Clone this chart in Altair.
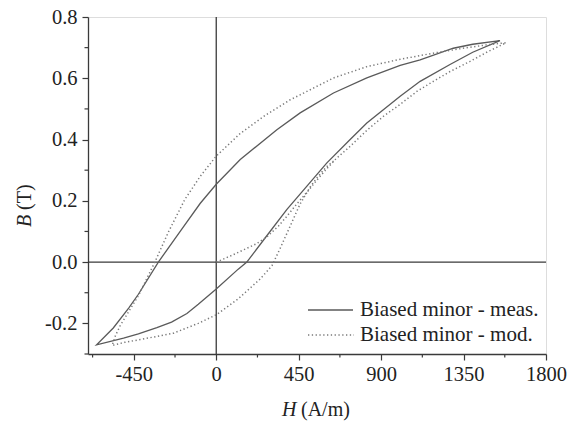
import altair as alt
import pandas as pd

# ---- data ----
meas_H = [1549, 1400, 1294, 1113, 1004, 822, 640, 458, 331, 131, 0, -87, -189, -316, -425, -478, -562, -653,
          -506, -425, -324, -244, -160, -98, 0, 120, 167, 276, 386, 495, 604, 731, 822, 1004, 1113, 1276, 1400, 1549]
meas_B = [0.723, 0.711, 0.698, 0.660, 0.642, 0.601, 0.552, 0.487, 0.432, 0.335, 0.254, 0.192, 0.107, 0.0, -0.105, -0.150, -0.215, -0.270,
          -0.248, -0.234, -0.214, -0.196, -0.168, -0.138, -0.088, -0.023, 0.0, 0.086, 0.172, 0.248, 0.324, 0.400, 0.454, 0.541, 0.590, 0.645, 0.685, 0.723]

mod_H = [0, 93, 149, 220, 276, 340, 386, 440, 495, 550, 604, 650,
         731, 822, 913, 1004, 1095, 1185, 1276, 1385, 1480, 1582,
         1476, 1336, 1185, 1004, 822, 640, 458, 404, 270, 131, 0, -87, -171, -262, -335, -425, -469, -524, -550, -568,
         -500, -415, -233, -98, 0, 120, 240, 304, 349, 404, 458, 513, 549, 600, 650]
mod_B = [0.0, 0.024, 0.040, 0.060, 0.082, 0.118, 0.150, 0.190, 0.228, 0.268, 0.305, 0.335,
         0.378, 0.430, 0.476, 0.515, 0.557, 0.590, 0.622, 0.655, 0.686, 0.716,
         0.709, 0.697, 0.682, 0.662, 0.638, 0.601, 0.546, 0.530, 0.480, 0.420, 0.346, 0.280, 0.205, 0.097, 0.0, -0.110, -0.153, -0.207, -0.240, -0.272,
         -0.262, -0.253, -0.232, -0.200, -0.172, -0.120, -0.055, -0.012, 0.045, 0.118, 0.190, 0.245, 0.275, 0.310, 0.335]

series = ["Biased minor - meas.", "Biased minor - mod."]
x_major = [-450, 0, 450, 900, 1350, 1800]
x_minor = [-675, -225, 225, 675, 1125, 1575]
y_major = [-0.2, 0.0, 0.2, 0.4, 0.6, 0.8]
y_minor = [-0.3, -0.1, 0.1, 0.3, 0.5, 0.7]

FONT = "Liberation Serif"
AXC = "#3a3a3a"
TXT = "#222222"

meas = pd.DataFrame({"H": meas_H, "B": meas_B, "o": range(len(meas_H))})
mod = pd.DataFrame({"H": mod_H, "B": mod_B, "o": range(len(mod_H))})

xs = alt.Scale(domain=[-700, 1800], nice=False, zero=False)
ys = alt.Scale(domain=[-0.3, 0.8], nice=False, zero=False)

x_axis = alt.Axis(
    values=x_major, format="d", title=None, grid=False,
    labelExpr="replace(datum.label, '\u2212', '-')",
    tickSize=6,
    labelFont=FONT, labelFontSize=20.5, labelColor=TXT, labelPadding=4,
    labelOverlap=False, labelFlush=False,
    domainColor=AXC, tickColor=AXC, domainWidth=1.3, tickWidth=1.2,
)
y_axis = alt.Axis(
    values=y_major, format=".1f", title=None, grid=False,
    labelExpr="replace(datum.label, '\u2212', '-')",
    tickSize=6,
    labelFont=FONT, labelFontSize=20.5, labelColor=TXT, labelPadding=5,
    labelOverlap=False, labelFlush=False,
    domainColor=AXC, tickColor=AXC, domainWidth=1.3, tickWidth=1.2,
)

X = lambda f: alt.X(f, scale=xs, axis=x_axis)
Y = lambda f: alt.Y(f, scale=ys, axis=y_axis)

meas_line = alt.Chart(meas).mark_line(color="#5a5a5a", strokeWidth=1.3).encode(
    x=X("H:Q"), y=Y("B:Q"), order="o:Q")
mod_line = alt.Chart(mod).mark_line(color="#7a7a7a", strokeWidth=1.5, strokeDash=[1.3, 2.5]).encode(
    x=X("H:Q"), y=Y("B:Q"), order="o:Q")

vzero = alt.Chart(pd.DataFrame({"H": [0]})).mark_rule(color=AXC, strokeWidth=1.3).encode(x=X("H:Q"))
hzero = alt.Chart(pd.DataFrame({"B": [0.0]})).mark_rule(color=AXC, strokeWidth=1.3).encode(y=Y("B:Q"))

# minor ticks (outside the frame)
xmin = alt.Chart(pd.DataFrame({"H": x_minor})).mark_rule(color=AXC, strokeWidth=1.2).encode(
    x=X("H:Q"), y=alt.value(337), y2=alt.value(340.5))
ymin = alt.Chart(pd.DataFrame({"B": y_minor})).mark_rule(color=AXC, strokeWidth=1.2).encode(
    y=Y("B:Q"), x=alt.value(0), x2=alt.value(-3.5))

# legend (drawn manually)
leg = pd.DataFrame({"name": series})
leg_solid = alt.Chart(leg.iloc[[0]]).mark_rule(color="#5a5a5a", strokeWidth=1.3).encode(
    x=alt.value(220), x2=alt.value(265), y=alt.value(293))
leg_dot = alt.Chart(leg.iloc[[1]]).mark_rule(color="#7a7a7a", strokeWidth=1.5, strokeDash=[1.3, 2.5]).encode(
    x=alt.value(220), x2=alt.value(266), y=alt.value(318))
leg_t1 = alt.Chart(leg.iloc[[0]]).mark_text(font=FONT, fontSize=21, color=TXT, align="left", baseline="middle").encode(
    x=alt.value(272), y=alt.value(293), text="name:N")
leg_t2 = alt.Chart(leg.iloc[[1]]).mark_text(font=FONT, fontSize=21, color=TXT, align="left", baseline="middle").encode(
    x=alt.value(272), y=alt.value(318), text="name:N")

# axis titles with italic symbols
one = pd.DataFrame({"a": [0]})
def label(txt, x, y, italic=False, angle=0):
    kw = dict(font=FONT, fontSize=20, color=TXT, align="left", baseline="middle")
    if italic:
        kw["fontStyle"] = "italic"
    if angle:
        kw["angle"] = angle
    return alt.Chart(one).mark_text(**kw).encode(x=alt.value(x), y=alt.value(y), text=alt.value(txt))

xt1 = label("H", 194, 393, italic=True)
xt2 = label("(A/m)", 213, 393)
yt1 = label("B", -63, 210, italic=True, angle=270)
yt2 = label("(T)", -63, 193, angle=270)

chart = alt.layer(
    vzero, hzero, meas_line, mod_line, xmin, ymin,
    leg_solid, leg_dot, leg_t1, leg_t2, xt1, xt2, yt1, yt2,
).properties(
    width=458, height=337,
    autosize=alt.AutoSizeParams(type="none"),
    padding={"left": 88, "top": 17, "right": 26, "bottom": 69},
).configure_view(stroke=AXC, strokeWidth=1.3).configure(background="white")

chart.save("out.html", embed_options={"renderer": "svg", "actions": False})
